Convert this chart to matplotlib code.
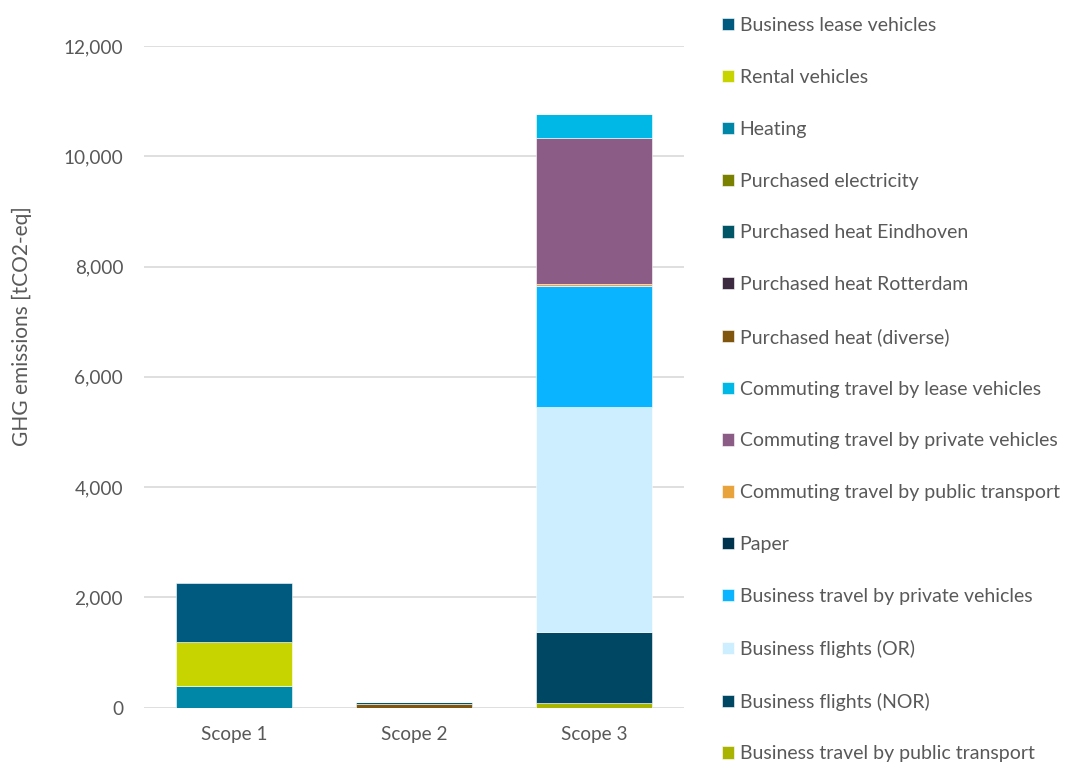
import matplotlib.pyplot as plt
import numpy as np

plt.rcParams['font.family'] = ['Lato', 'DejaVu Sans']

scopes = ["Scope 1", "Scope 2", "Scope 3"]

# legend order (top of legend first); stacked bottom-up in reverse
series_names = [
    "Business lease vehicles",
    "Rental vehicles",
    "Heating",
    "Purchased electricity",
    "Purchased heat Eindhoven",
    "Purchased heat Rotterdam",
    "Purchased heat (diverse)",
    "Commuting travel by lease vehicles",
    "Commuting travel by private vehicles",
    "Commuting travel by public transport",
    "Paper",
    "Business travel by private vehicles",
    "Business flights (OR)",
    "Business flights (NOR)",
    "Business travel by public transport",
]
series_colors = [
    "#005A80", "#C8D400", "#0087A8", "#7A8000", "#005566",
    "#3C2A40", "#80560F", "#00B8E6", "#8A5C86", "#E8A33D",
    "#00334D", "#0AB4FF", "#CCEEFF", "#004763", "#A8B400",
]
# values per scope [Scope 1, Scope 2, Scope 3], tCO2-eq
series_values = [
    [1060, 0, 0],
    [800, 0, 0],
    [400, 0, 0],
    [0, 3, 0],
    [0, 40, 0],
    [0, 5, 0],
    [0, 60, 0],
    [0, 0, 440],
    [0, 0, 2640],
    [0, 0, 30],
    [0, 0, 10],
    [0, 0, 2190],
    [0, 0, 4085],
    [0, 0, 1290],
    [0, 0, 80],
]

grey = "#595959"

fig = plt.figure(figsize=(10.66, 7.63), dpi=100)
ax = fig.add_axes([0.1351, 0.0725, 0.5066, 0.8672])

x = np.arange(len(scopes))
bottom = np.zeros(len(scopes))
handles = {}
for name, col, vals in reversed(list(zip(series_names, series_colors, series_values))):
    vals = np.array(vals, dtype=float)
    b = ax.bar(x, vals, 0.64, bottom=bottom, color=col, edgecolor="white",
               linewidth=0.4, label=name, zorder=3)
    handles[name] = b
    bottom += vals

ax.set_xlim(-0.5, 2.5)
ax.set_ylim(0, 12000)
ax.set_yticks(np.arange(0, 12001, 2000))
ax.yaxis.set_major_formatter(plt.FuncFormatter(lambda v, p: f"{int(v):,}"))
ax.set_xticks(x)
ax.set_xticklabels(scopes)
ax.grid(axis="y", color="#D9D9D9", linewidth=1.2, zorder=0)
for s in ax.spines.values():
    s.set_visible(False)
ax.tick_params(axis="both", length=0, labelsize=13.7, labelcolor=grey)
ax.tick_params(axis="y", pad=15)
ax.tick_params(axis="x", pad=13)

ax.set_ylabel("GHG emissions [tCO2-eq]", fontsize=15, color=grey)
ax.yaxis.set_label_coords(-0.207, 0.576)

leg = fig.legend([handles[n] for n in series_names], series_names,
                 loc="upper left", bbox_to_anchor=(0.661, 1.0005), frameon=False,
                 fontsize=14, labelcolor=grey, handlelength=0.6,
                 handleheight=0.6, handletextpad=0.3, labelspacing=1.79)

fig.savefig("out.png", dpi=100)
